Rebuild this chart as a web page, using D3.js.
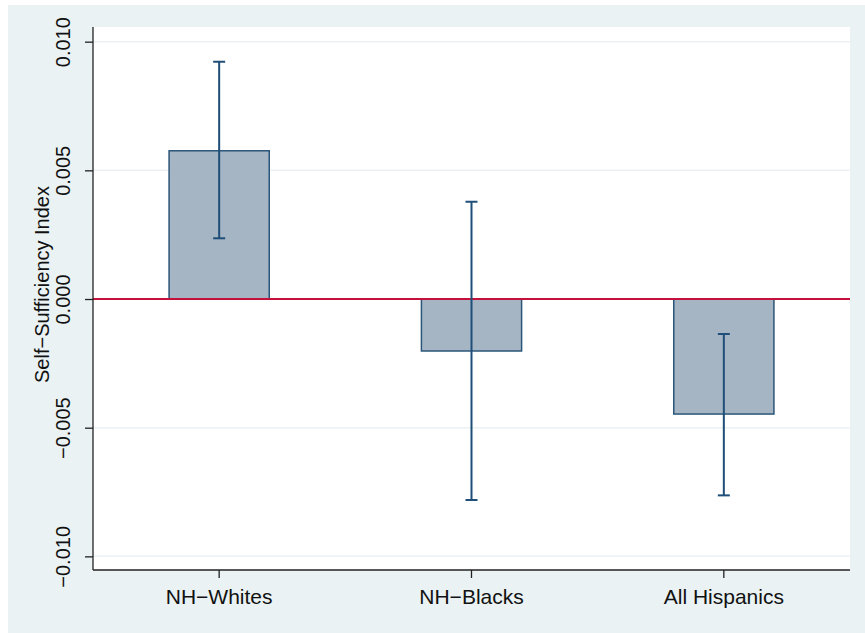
<!DOCTYPE html>
<html>
<head>
<meta charset="utf-8">
<script src="https://cdn.jsdelivr.net/npm/d3@7"></script>
<style>
  html, body { margin: 0; padding: 0; background: #ffffff; }
  svg { display: block; font-family: "Liberation Sans", Arial, Helvetica, sans-serif; }
</style>
</head>
<body>
<svg id="chart" width="865" height="633"></svg>
<script>
// Group estimates of the self-sufficiency index with 95% confidence intervals
const groups   = ["NH\u2212Whites", "NH\u2212Blacks", "All Hispanics"];
const estimate = [0.00576, -0.00202, -0.00447];
const ciLower  = [0.00236, -0.00781, -0.00763];
const ciUpper  = [0.00922, 0.00378, -0.00136];
const yTicks   = [-0.010, -0.005, 0.000, 0.005, 0.010];
const yTitle   = "Self\u2212Sufficiency Index";

const W = 865, H = 633;
const outer = { left: 8, top: 5, right: 865, bottom: 633 };
const plot  = { left: 93, top: 27, right: 850, bottom: 570 };

const svg = d3.select("#chart");

// graph region background
svg.append("rect")
  .attr("x", outer.left).attr("y", outer.top)
  .attr("width", outer.right - outer.left).attr("height", outer.bottom - outer.top)
  .attr("fill", "#eaf2f3");

// plot region
svg.append("rect")
  .attr("x", plot.left).attr("y", plot.top)
  .attr("width", plot.right - plot.left).attr("height", plot.bottom - plot.top)
  .attr("fill", "#ffffff");

const y = d3.scaleLinear()
  .domain([-0.01053, 0.01057])
  .range([plot.bottom, plot.top]);

const x = d3.scaleBand()
  .domain(groups)
  .range([plot.left, plot.right])
  .paddingInner(0.603)
  .paddingOuter(0.3015);

// horizontal grid lines
svg.append("g").selectAll("line")
  .data(yTicks)
  .join("line")
  .attr("x1", plot.left).attr("x2", plot.right)
  .attr("y1", d => y(d)).attr("y2", d => y(d))
  .attr("stroke", "#eaf2f3").attr("stroke-width", 1.5);

// bars
svg.append("g").selectAll("rect")
  .data(groups)
  .join("rect")
  .attr("x", d => x(d))
  .attr("width", x.bandwidth())
  .attr("y", (d, i) => Math.min(y(estimate[i]), y(0)))
  .attr("height", (d, i) => Math.abs(y(estimate[i]) - y(0)))
  .attr("fill", "#a5b5c4")
  .attr("stroke", "#2b5679")
  .attr("stroke-width", 1.5);

// zero reference line
svg.append("line")
  .attr("x1", plot.left).attr("x2", plot.right)
  .attr("y1", y(0)).attr("y2", y(0))
  .attr("stroke", "#c4103a").attr("stroke-width", 1.8);

// confidence interval whiskers
const ci = svg.append("g").attr("stroke", "#1f4e78").attr("stroke-width", 2);
groups.forEach((g, i) => {
  const cx = x(g) + x.bandwidth() / 2;
  ci.append("line")
    .attr("x1", cx).attr("x2", cx)
    .attr("y1", y(ciLower[i])).attr("y2", y(ciUpper[i]));
  [ciLower[i], ciUpper[i]].forEach(v => {
    ci.append("line")
      .attr("x1", cx - 6).attr("x2", cx + 6)
      .attr("y1", y(v)).attr("y2", y(v));
  });
});

// y axis
const yAxis = d3.axisLeft(y)
  .tickValues(yTicks)
  .tickSize(8)
  .tickPadding(6)
  .tickFormat(d => d3.format(".3f")(d).replace("-", "\u2212"));

const ya = svg.append("g")
  .attr("transform", `translate(${plot.left},0)`)
  .call(yAxis);
ya.select(".domain").attr("stroke", "#222").attr("stroke-width", 1.3)
  .attr("d", `M0,${plot.top}V${plot.bottom}`);
ya.selectAll(".tick line").attr("stroke", "#222").attr("stroke-width", 1.3);
ya.selectAll(".tick text")
  .attr("font-size", 20)
  .attr("fill", "#111")
  .attr("x", null).attr("dy", null)
  .attr("text-anchor", "middle")
  .attr("transform", "translate(-23,0) rotate(-90)");

// x axis
const xAxis = d3.axisBottom(x).tickSize(8).tickPadding(6);
const xa = svg.append("g")
  .attr("transform", `translate(0,${plot.bottom})`)
  .call(xAxis);
xa.select(".domain").attr("stroke", "#222").attr("stroke-width", 1.3)
  .attr("d", `M${plot.left},0H${plot.right}`);
xa.selectAll(".tick line").attr("stroke", "#222").attr("stroke-width", 1.3);
xa.selectAll(".tick text")
  .attr("font-size", 21)
  .attr("fill", "#111")
  .attr("dy", "0.95em");

// y axis title
svg.append("text")
  .attr("transform", `translate(49,${(plot.top + plot.bottom) / 2 - 14}) rotate(-90)`)
  .attr("text-anchor", "middle")
  .attr("font-size", 20)
  .attr("fill", "#111")
  .text(yTitle);
</script>
</body>
</html>
